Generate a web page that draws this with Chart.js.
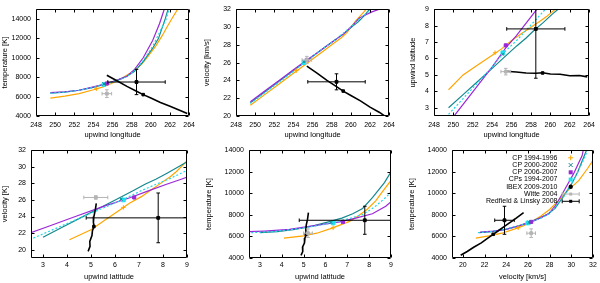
<!DOCTYPE html>
<html>
<head>
<meta charset="utf-8">
<script src="https://cdn.jsdelivr.net/npm/chart.js@4.4.0/dist/chart.umd.min.js"></script>
<style>
html, body { margin: 0; padding: 0; background: #fff; }
#wrap { position: relative; width: 600px; height: 283px; }
#wrap canvas { position: absolute; }
</style>
</head>
<body>
<div id="wrap">
  <canvas id="p1"></canvas><canvas id="p2"></canvas><canvas id="p3"></canvas>
  <canvas id="p4"></canvas><canvas id="p5"></canvas><canvas id="p6"></canvas>
</div>
<script>
// tick labels
const lonTicks = [248, 250, 252, 254, 256, 258, 260, 262, 264];
const latTicks = [3, 4, 5, 6, 7, 8, 9];
const velTicks = [20, 22, 24, 26, 28, 30, 32];
const tempTicks = [4000, 6000, 8000, 10000, 12000, 14000];

// model curves, sampled along upwind longitude
const cp9496Lon  = [249.5, 251, 252.5, 254, 255, 256, 257, 258, 259, 259.6, 260.5, 261.2, 261.7, 262.3, 262.8];
const cp9496Lat  = [4.1, 5.0, 5.6, 6.2, 6.6, 7.1, 7.5, 7.9, 8.3, 8.55, 9.0, 9.35, 9.6, 9.9, 10.2];
const cp9496Vel  = [21.2, 22.4, 23.6, 24.8, 25.6, 26.4, 27.2, 28.0, 28.8, 29.4, 30.7, 31.5, 32.1, 32.8, 33.4];
const cp9496Temp = [5850, 6050, 6300, 6700, 7000, 7400, 7900, 8500, 9300, 10000, 11200, 12300, 13200, 14200, 15000];

const cp0002Lon  = [249.5, 251, 252.5, 254, 255.2, 256.5, 257.5, 258.3, 259.2, 260.2, 260.8, 261.5, 261.8, 262.3];
const cp0002Lat  = [3.0, 3.8, 4.6, 5.4, 6.05, 6.75, 7.25, 7.7, 8.15, 8.7, 9.0, 9.4, 9.55, 9.8];
const cp0002Vel  = [21.5, 22.7, 23.9, 25.1, 26.05, 27.1, 27.9, 28.5, 29.2, 30.1, 30.6, 31.4, 31.8, 32.3];
const cp0002Temp = [6350, 6450, 6650, 6950, 7300, 7700, 8100, 8600, 9600, 11000, 12000, 14000, 15000, 16500];

const cp0607Lon  = [249.5, 251, 252.5, 254, 255.4, 256.5, 257.5, 258.3, 259.2, 260.2, 260.9, 261.4, 262.2, 263.5];
const cp0607Lat  = [2.07, 3.21, 4.35, 5.49, 6.65, 7.39, 8.15, 8.76, 9.45, 10.2, 10.7, 11.1, 11.7, 12.7];
const cp0607Vel  = [21.6, 22.8, 24.0, 25.2, 26.3, 27.1, 27.9, 28.5, 29.2, 30.2, 31.0, 31.3, 31.7, 32.2];
const cp0607Temp = [6400, 6500, 6650, 7000, 7350, 7700, 8100, 8800, 10000, 11800, 13500, 15000, 17500, 21000];

const cps9407Lon  = [249.5, 251, 252.5, 254, 255.1, 256.5, 257.5, 258.3, 259.2, 260.2, 261, 261.6, 261.9, 262.3];
const cps9407Lat  = [2.6, 3.56, 4.52, 5.48, 6.3, 7.08, 7.72, 8.23, 8.81, 9.45, 9.96, 10.34, 10.54, 10.8];
const cps9407Vel  = [21.4, 22.6, 23.8, 25.0, 26.0, 27.1, 27.9, 28.5, 29.3, 30.2, 31.0, 31.5, 31.8, 32.2];
const cps9407Temp = [6350, 6450, 6650, 6950, 7250, 7650, 8050, 8700, 9700, 11200, 12800, 14000, 15000, 16500];

const ibexLon  = [255.4, 256.5, 257.5, 258.5, 259.2, 260, 261, 262, 263, 263.8];
const ibexLat  = [5.22, 5.18, 5.12, 5.10, 5.13, 5.06, 5.04, 4.95, 4.96, 4.88];
const ibexVel  = [25.6, 24.8, 24.0, 23.3, 22.8, 22.3, 21.7, 21.0, 20.4, 19.8];
const ibexTemp = [8200, 7600, 7050, 6550, 6200, 5850, 5400, 5000, 4600, 4250];

// best-fit points: CP 1994-1996, CP 2000-2002, CP 2006-2007, CPs 1994-2007, IBEX 2009-2010
const bestLon  = [254.3, 255.1, 255.4, 255.1, 259.2];
const bestLat  = [6.35, 6.25, 6.8, 6.35, 5.12];
const bestVel  = [25.1, 26.1, 26.3, 26.0, 22.8];
const bestTemp = [6800, 7300, 7350, 7250, 6200];

// measurements with error bars: Witte 2004, Redfield & Linsky 2008
const obsLon     = [255.4, 258.5];
const obsLonErr  = [0.5, 3.0];
const obsLat     = [5.2, 7.8];
const obsLatErr  = [0.2, 3.0];
const obsVel     = [26.3, 23.84];
const obsVelErr  = [0.4, 0.9];
const obsTemp    = [6300, 7500];
const obsTempErr = [400, 1300];

const seriesNames = ['CP 1994-1996', 'CP 2000-2002', 'CP 2006-2007', 'CPs 1994-2007', 'IBEX 2009-2010', 'Witte 2004', 'Redfield & Linsky 2008'];

const FONT = "'Liberation Sans', Arial, sans-serif";
Chart.defaults.font.family = FONT;
Chart.defaults.font.size = 7;
Chart.defaults.color = '#000';

const curves = [
  { color: '#ffa500', width: 1.2, dash: [], lon: cp9496Lon, lat: cp9496Lat, vel: cp9496Vel, temp: cp9496Temp },
  { color: '#13898f', width: 1.2, dash: [], lon: cp0002Lon, lat: cp0002Lat, vel: cp0002Vel, temp: cp0002Temp },
  { color: '#9a27d8', width: 1.2, dash: [], lon: cp0607Lon, lat: cp0607Lat, vel: cp0607Vel, temp: cp0607Temp },
  { color: '#20d8e8', width: 1.2, dash: [2, 2], lon: cps9407Lon, lat: cps9407Lat, vel: cps9407Vel, temp: cps9407Temp },
  { color: '#000000', width: 1.6, dash: [], lon: ibexLon, lat: ibexLat, vel: ibexVel, temp: ibexTemp }
];
const best = { lon: bestLon, lat: bestLat, vel: bestVel, temp: bestTemp };
const bestStyle = [
  { style: 'cross', r: 2.2, color: '#ffa500' },
  { style: 'crossRot', r: 2.2, color: '#13898f' },
  { style: 'rect', r: 2.2, color: '#9a27d8' },
  { style: 'rect', r: 2.6, color: '#20e0f0' },
  { style: 'rect', r: 1.8, color: '#000000' }
];
const obs = {
  lon: obsLon, lonErr: obsLonErr, lat: obsLat, latErr: obsLatErr,
  vel: obsVel, velErr: obsVelErr, temp: obsTemp, tempErr: obsTempErr
};
const obsColor = ['#b4b4b4', '#000000'];

const panels = [
  { id: 'p1', pos: [0, 0, 200, 141], area: [36, 191, 4, 116], x: 'lon', y: 'temp', xr: [248, 264], yr: [4000, 15000],
    xt: lonTicks, yt: tempTicks, xTitle: 'upwind longitude', yTitle: 'temperature [K]', yTitleX: 5, tickPad: 5 },
  { id: 'p2', pos: [200, 0, 200, 141], area: [36, 192, 4, 116], x: 'lon', y: 'vel', xr: [248, 264], yr: [20, 32],
    xt: lonTicks, yt: velTicks, xTitle: 'upwind longitude', yTitle: 'velocity [km/s]', yTitleX: 7, tickPad: 5 },
  { id: 'p3', pos: [400, 0, 200, 141], area: [34, 191, 4, 116], x: 'lon', y: 'lat', xr: [248, 264], yr: [2.5, 9],
    xt: lonTicks, yt: latTicks, xTitle: 'upwind longitude', yTitle: 'upwind latitude', yTitleX: 13, tickPad: 5 },
  { id: 'p4', pos: [0, 141, 200, 142], area: [31, 187, 4, 117], x: 'lat', y: 'vel', xr: [2.5, 9], yr: [19, 32],
    xt: latTicks, yt: velTicks, xTitle: 'upwind latitude', yTitle: 'velocity [K]', yTitleX: 5, tickPad: 3,
    xErr: 'lon', yErr: 'lat' },
  { id: 'p5', pos: [200, 141, 200, 142], area: [49, 191, 5, 117], x: 'lat', y: 'temp', xr: [2.5, 9], yr: [4000, 14000],
    xt: latTicks, yt: tempTicks, xTitle: 'upwind latitude', yTitle: 'temperature [K]', yTitleX: 9, tickPad: 3 },
  { id: 'p6', pos: [400, 141, 200, 142], area: [52, 193, 5, 117], x: 'vel', y: 'temp', xr: [19, 32], yr: [4000, 14000],
    xt: velTicks, yt: tempTicks, xTitle: 'velocity [km/s]', yTitle: 'temperature [K]', yTitleX: 12, tickPad: 3, key: true }
];

// border plus inward ticks on all four sides
const framePlugin = {
  id: 'frame',
  afterDatasetsDraw(chart) {
    const { ctx, chartArea: a, scales } = chart;
    const L = Math.round(a.left) + 0.5, R = Math.round(a.right) - 0.5;
    const T = Math.round(a.top) + 0.5, B = Math.round(a.bottom) - 0.5;
    ctx.save();
    ctx.strokeStyle = '#000';
    ctx.lineWidth = 1;
    ctx.beginPath();
    ctx.rect(L, T, R - L, B - T);
    scales.x.ticks.forEach(t => {
      const px = Math.round(scales.x.getPixelForValue(t.value)) + 0.5;
      ctx.moveTo(px, B); ctx.lineTo(px, B - 3);
      ctx.moveTo(px, T); ctx.lineTo(px, T + 3);
    });
    scales.y.ticks.forEach(t => {
      const py = Math.round(scales.y.getPixelForValue(t.value)) + 0.5;
      ctx.moveTo(L, py); ctx.lineTo(L + 3, py);
      ctx.moveTo(R, py); ctx.lineTo(R - 3, py);
    });
    ctx.stroke();
    ctx.restore();
  }
};

function drawMark(ctx, style, color, x, y) {
  ctx.strokeStyle = color;
  ctx.fillStyle = color;
  ctx.lineWidth = 1;
  ctx.beginPath();
  if (style === 'cross') {
    ctx.moveTo(x - 2.5, y); ctx.lineTo(x + 2.5, y);
    ctx.moveTo(x, y - 2.5); ctx.lineTo(x, y + 2.5);
    ctx.stroke();
  } else if (style === 'crossRot') {
    ctx.moveTo(x - 2, y - 2); ctx.lineTo(x + 2, y + 2);
    ctx.moveTo(x - 2, y + 2); ctx.lineTo(x + 2, y - 2);
    ctx.stroke();
  } else if (style === 'rect') {
    ctx.fillRect(x - 2, y - 2, 4, 4);
  } else if (style === 'circle') {
    ctx.arc(x, y, 2.2, 0, Math.PI * 2);
    ctx.fill();
  } else if (style === 'bar') {
    ctx.moveTo(x - 8.5, y); ctx.lineTo(x + 8.5, y);
    ctx.moveTo(x - 8.5, y - 2); ctx.lineTo(x - 8.5, y + 2);
    ctx.moveTo(x + 8.5, y - 2); ctx.lineTo(x + 8.5, y + 2);
    ctx.stroke();
    ctx.fillRect(x - 1.5, y - 1.5, 3, 3);
  }
}

// key drawn inside the last panel
const keyPlugin = {
  id: 'keyBox',
  afterDraw(chart) {
    if (!chart.options.plugins.keyBox || !chart.options.plugins.keyBox.show) return;
    const { ctx, chartArea: a } = chart;
    const marks = [
      ['cross', '#ffa500'], ['crossRot', '#13898f'], ['rect', '#9a27d8'], ['rect', '#20e0f0'],
      ['circle', '#000000'], ['bar', obsColor[0]], ['bar', obsColor[1]]
    ];
    ctx.save();
    ctx.font = '7px ' + FONT;
    ctx.textAlign = 'right';
    ctx.textBaseline = 'middle';
    seriesNames.forEach((name, i) => {
      const y = a.top + 7.6 + i * 7.25;
      ctx.fillStyle = '#000';
      ctx.fillText(name, a.right - 35.5, y);
      drawMark(ctx, marks[i][0], marks[i][1], a.right - 22.3, y);
    });
    ctx.restore();
  }
};

function pts(src, xk, yk) {
  return src[xk].map((v, i) => ({ x: v, y: src[yk][i] }));
}

function buildDatasets(p) {
  const sets = [];
  const xe = (p.xErr || p.x) + 'Err';
  const ye = (p.yErr || p.y) + 'Err';
  // measurements, on top
  obsColor.slice().reverse().forEach((col, k) => {
    const i = obsColor.length - 1 - k;
    const x = obs[p.x][i], y = obs[p.y][i];
    const dx = obs[xe][i], dy = obs[ye][i];
    const bar = { showLine: true, borderColor: col, borderWidth: 1, pointStyle: 'line',
      pointRadius: 1.8, pointBorderColor: col, pointBorderWidth: 1 };
    sets.push(Object.assign({ data: [{ x: x - dx, y: y }, { x: x + dx, y: y }], pointRotation: 90 }, bar));
    sets.push(Object.assign({ data: [{ x: x, y: y - dy }, { x: x, y: y + dy }], pointRotation: 0 }, bar));
    sets.push({ data: [{ x: x, y: y }], pointStyle: 'rect', pointRadius: 2,
      pointBackgroundColor: col, pointBorderColor: col });
  });
  // best-fit markers
  bestStyle.forEach((s, i) => {
    sets.push({ data: [{ x: best[p.x][i], y: best[p.y][i] }], pointStyle: s.style, pointRadius: s.r,
      pointBackgroundColor: s.color, pointBorderColor: s.color, pointBorderWidth: 1 });
  });
  // curves, IBEX on top, orange at the bottom
  curves.slice().reverse().forEach(c => {
    sets.push({ data: pts(c, p.x, p.y), showLine: true, borderColor: c.color, borderWidth: c.width,
      borderDash: c.dash, pointRadius: 0, fill: false });
  });
  return sets;
}

panels.forEach(p => {
  const cv = document.getElementById(p.id);
  const [px, py, w, h] = p.pos;
  const [l, r, t, b] = p.area;
  cv.width = w; cv.height = h;
  cv.style.left = px + 'px'; cv.style.top = py + 'px';
  cv.style.width = w + 'px'; cv.style.height = h + 'px';

  new Chart(cv, {
    type: 'scatter',
    data: { datasets: buildDatasets(p) },
    options: {
      responsive: false,
      animation: false,
      devicePixelRatio: 1,
      events: [],
      layout: { padding: { left: 0, top: t, right: w - r, bottom: 0 } },
      plugins: { legend: { display: false }, tooltip: { enabled: false }, keyBox: { show: !!p.key } },
      scales: {
        x: {
          type: 'linear', min: p.xr[0], max: p.xr[1],
          grid: { display: false, drawTicks: false },
          border: { display: false },
          ticks: { padding: p.tickPad, maxRotation: 0, autoSkip: false, font: { size: 7 },
            callback: v => String(v) },
          afterBuildTicks: s => { s.ticks = p.xt.map(v => ({ value: v })); },
          afterFit: s => { s.height = h - b; },
          title: { display: true, text: p.xTitle, font: { size: 7.5 }, padding: { top: 0, bottom: 1.5 } }
        },
        y: {
          type: 'linear', min: p.yr[0], max: p.yr[1],
          grid: { display: false, drawTicks: false },
          border: { display: false },
          ticks: { padding: 5, autoSkip: false, font: { size: 7 }, callback: v => String(v) },
          afterBuildTicks: s => { s.ticks = p.yt.map(v => ({ value: v })); },
          afterFit: s => { s.width = l; },
          title: { display: true, text: p.yTitle, font: { size: 7.5 }, padding: { top: p.yTitleX - 4.5, bottom: 0 } }
        }
      }
    },
    plugins: [framePlugin, keyPlugin]
  });
});
</script>
</body>
</html>
